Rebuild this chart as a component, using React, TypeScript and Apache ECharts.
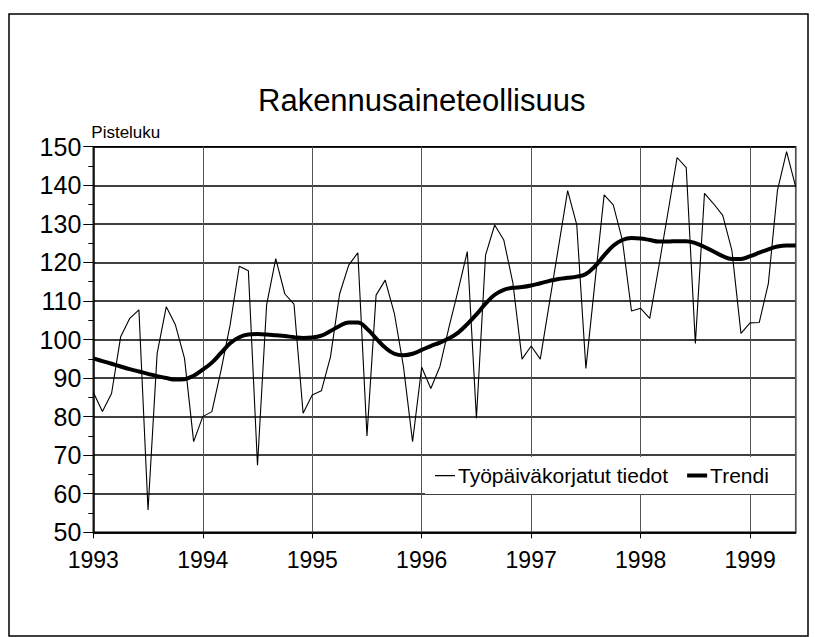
import React, { useEffect, useRef } from "react";
import * as echarts from "echarts";

const TITLE = "Rakennusaineteollisuus";
const Y_NAME = "Pisteluku";
const YEARS = ["1993", "1994", "1995", "1996", "1997", "1998", "1999"];
const SERIES_NAMES = ["Työpäiväkorjatut tiedot", "Trendi"];

// Monthly values, Jan 1993 – Jun 1999
const RAW = [
  86.3, 81.3, 86.0, 100.7, 105.5, 107.7, 55.8, 96.4, 108.5, 103.8, 95.1, 73.5,
  80.0, 81.3, 92.0, 103.8, 119.0, 117.8, 67.4, 109.0, 121.0, 111.8, 109.2, 80.9,
  85.6, 86.7, 95.5, 111.8, 119.3, 122.5, 75.0, 111.5, 115.4, 106.8, 93.0, 73.5,
  92.8, 87.3, 93.0, 103.3, 112.8, 122.8, 79.6, 121.9, 129.7, 125.8, 114.6, 94.9,
  98.3, 94.9, 109.5, 124.0, 138.6, 129.7, 92.5, 115.0, 137.5, 134.9, 125.8, 107.4,
  108.1, 105.5, 119.0, 133.0, 147.2, 144.6, 99.0, 137.9, 135.2, 132.2, 123.2, 101.6,
  104.3, 104.4, 114.5, 138.7, 148.7, 139.6,
];

const TREND = [
  95.1, 94.4, 93.7, 93.0, 92.3, 91.7, 91.1, 90.5, 90.0, 89.6, 89.7, 90.6,
  92.2, 94.0, 96.5, 99.0, 100.6, 101.3, 101.4, 101.3, 101.1, 100.9, 100.6, 100.4,
  100.5, 101.0, 102.2, 103.5, 104.4, 104.4, 102.8, 100.3, 97.9, 96.3, 95.9, 96.3,
  97.3, 98.3, 99.2, 100.3, 101.8, 104.0, 106.5, 109.3, 111.6, 112.9, 113.4, 113.6,
  114.0, 114.6, 115.2, 115.7, 116.0, 116.3, 117.0, 119.0, 121.8, 124.3, 125.8, 126.3,
  126.2, 125.8, 125.4, 125.4, 125.5, 125.5, 125.0, 124.0, 122.8, 121.6, 120.9, 120.9,
  121.6, 122.5, 123.4, 124.1, 124.4, 124.4,
];

const FONT = "'Liberation Sans', Arial, Helvetica, sans-serif";

// legend icons: thin and thick horizontal strokes inside a 20x14 box
const ICON_THIN = "path://M0,0h0.01v0.01h-0.01z M0,6.4h20v1.3h-20z M19.99,13.99h0.01v0.01h-0.01z";
const ICON_THICK = "path://M0,0h0.01v0.01h-0.01z M0,5h20v4h-20z M19.99,13.99h0.01v0.01h-0.01z";

export default function App() {
  const ref = useRef<HTMLDivElement>(null);

  useEffect(() => {
    if (!ref.current) return;
    const chart = echarts.init(ref.current, undefined, { renderer: "svg" });
    const option = {
      animation: false,
      backgroundColor: "#fff",
      textStyle: { fontFamily: FONT, color: "#000" },
      title: {
        text: TITLE,
        left: 253,
        top: 80,
        textStyle: { fontFamily: FONT, fontSize: 31, fontWeight: "normal", color: "#000" },
      },
      graphic: [
        {
          type: "rect",
          shape: { x: 9, y: 14, width: 799, height: 622 },
          style: { fill: "none", stroke: "#000", lineWidth: 1.5 },
          z: -1,
          silent: true,
        },
      ],
      legend: {
        left: 425,
        top: 457,
        padding: [8, 26, 8, 10],
        backgroundColor: "#fff",
        itemWidth: 20,
        itemHeight: 14,
        itemGap: 19,
        data: [
          { name: SERIES_NAMES[0], icon: ICON_THIN },
          { name: SERIES_NAMES[1], icon: ICON_THICK },
        ],
        textStyle: { fontFamily: FONT, fontSize: 21, color: "#000", padding: [0, 0, 0, -2] },
      },
      grid: {
        left: 93.3,
        right: 19.3,
        top: 146.7,
        bottom: 104.7,
        show: true,
        borderColor: "#000",
        borderWidth: 1.5,
        backgroundColor: "transparent",
      },
      xAxis: {
        type: "value",
        min: 0,
        max: RAW.length - 1,
        interval: 12,
        axisLine: { show: true, lineStyle: { color: "#000", width: 1.5 } },
        axisTick: { show: true, length: 6, lineStyle: { color: "#000", width: 1 } },
        splitLine: { show: true, lineStyle: { color: "#555", width: 1 } },
        axisLabel: {
          fontFamily: FONT,
          fontSize: 23,
          color: "#000",
          margin: 16,
          showMaxLabel: false,
          formatter: (v: number) => (v % 12 === 0 ? YEARS[v / 12] ?? "" : ""),
        },
      },
      yAxis: {
        type: "value",
        min: 50,
        max: 150,
        interval: 10,
        name: Y_NAME,
        nameLocation: "end",
        nameGap: 6,
        nameTextStyle: { fontFamily: FONT, fontSize: 17, color: "#000", align: "left", padding: [0, 0, 0, -2] },
        axisLine: { show: true, lineStyle: { color: "#000", width: 1.5 } },
        axisTick: { show: true, length: 10, lineStyle: { color: "#000", width: 1 } },
        minorTick: { show: true, splitNumber: 2, length: 5, lineStyle: { color: "#000", width: 1 } },
        splitLine: { show: true, lineStyle: { color: "#000", width: 1.5 } },
        axisLabel: { fontFamily: FONT, fontSize: 25, color: "#000", margin: 12 },
      },
      series: [
        {
          name: SERIES_NAMES[0],
          type: "line",
          data: RAW.map((v, i) => [i, v]),
          symbol: "none",
          lineStyle: { color: "#000", width: 1.1 },
          itemStyle: { color: "#000" },
          z: 3,
        },
        {
          name: SERIES_NAMES[1],
          type: "line",
          data: TREND.map((v, i) => [i, v]),
          symbol: "none",
          smooth: 0.4,
          lineStyle: { color: "#000", width: 4 },
          itemStyle: { color: "#000" },
          z: 4,
        },
      ],
    };
    chart.setOption(option as any);
    return () => chart.dispose();
  }, []);

  return (
    <div
      ref={ref}
      style={{ position: "absolute", left: 0, top: 0, width: 815, height: 637 }}
    />
  );
}
